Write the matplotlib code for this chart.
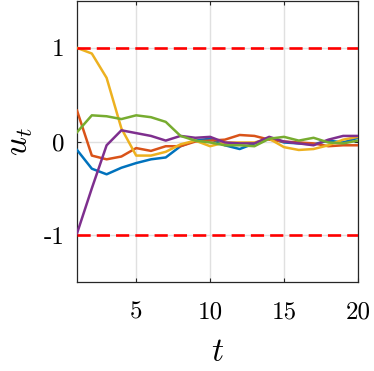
import matplotlib
matplotlib.use('Agg')
import matplotlib.pyplot as plt
import numpy as np

plt.rcParams['mathtext.fontset'] = 'cm'

t = np.arange(1, 21)
u_blue = [-0.09, -0.29, -0.35, -0.28, -0.23, -0.19, -0.17, -0.05, 0.01, 0.03,
          -0.04, -0.08, -0.02, 0.04, -0.01, -0.02, -0.03, 0.01, -0.01, 0.04]
u_orange = [0.33, -0.15, -0.19, -0.16, -0.07, -0.10, -0.05, -0.05, 0.00, 0.01,
            0.02, 0.07, 0.06, 0.02, 0.00, -0.01, -0.02, -0.05, -0.04, -0.04]
u_yellow = [1.00, 0.94, 0.68, 0.14, -0.15, -0.15, -0.11, -0.03, 0.01, -0.05,
            -0.01, -0.01, -0.01, 0.03, -0.06, -0.09, -0.08, -0.04, 0.02, 0.05]
u_purple = [-0.98, -0.50, -0.04, 0.12, 0.09, 0.06, 0.01, 0.06, 0.04, 0.05,
            -0.01, -0.02, -0.02, 0.05, 0.00, -0.02, -0.04, 0.02, 0.06, 0.06]
u_green = [0.10, 0.28, 0.27, 0.24, 0.28, 0.26, 0.21, 0.06, 0.01, -0.01,
           -0.04, -0.04, -0.05, 0.03, 0.05, 0.01, 0.04, -0.01, -0.02, 0.01]
bounds = [1, -1]

xticks = [5, 10, 15, 20]
yticks = [-1, 0, 1]

colors = [(0, 0.447, 0.741), (0.85, 0.325, 0.098), (0.929, 0.694, 0.125),
          (0.494, 0.184, 0.556), (0.466, 0.674, 0.188)]

fig = plt.figure(figsize=(3.74, 3.71), dpi=100)
ax = fig.add_axes([0.206, 0.240, 0.751, 0.757])

for u, c in zip([u_blue, u_orange, u_yellow, u_purple, u_green], colors):
    ax.plot(t, u, color=c, lw=1.8, zorder=3)

for b in bounds:
    ax.axhline(b, color='red', lw=1.9, dashes=(5, 2.3), zorder=4)

ax.set_xlim(1, 20)
ax.set_ylim(-1.5, 1.5)
ax.set_xticks(xticks)
ax.set_yticks(yticks)
ax.set_xticklabels([str(v) for v in xticks], fontfamily='cmr10', fontsize=18)
ax.set_yticklabels([str(v) for v in yticks], fontfamily='cmr10', fontsize=18)
ax.grid(True, color='0.88', lw=1.0, zorder=0)
ax.tick_params(direction='in', length=3, width=0.8, color='0.15',
               top=True, right=True)
ax.tick_params(axis='x', pad=14)
ax.tick_params(axis='y', pad=9)
for s in ax.spines.values():
    s.set_color('0.15')
    s.set_linewidth(0.9)

ax.set_xlabel('$t$', fontsize=24, labelpad=8)
ax.set_ylabel('$u_t$', fontsize=24, labelpad=6)

fig.savefig('out.png', dpi=100)
